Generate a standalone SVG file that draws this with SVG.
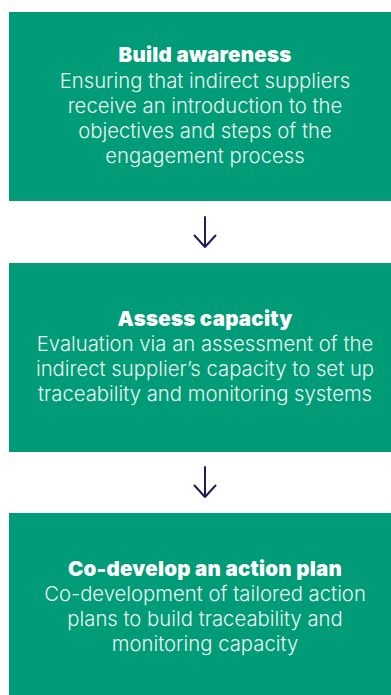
<svg xmlns="http://www.w3.org/2000/svg" width="391" height="695" viewBox="0 0 391 695">
<style>
.box{fill:#009b77}
.t{font-family:Inter,"Liberation Sans",sans-serif;font-size:20.5px;font-weight:900;fill:#ffffff;text-anchor:middle;letter-spacing:0.25px}
.b{font-family:Inter,"Liberation Sans",sans-serif;font-size:20.3px;font-weight:300;fill:#eaf6f1;text-anchor:middle}
.arr{fill:none;stroke:#1f1c5c;stroke-width:2;stroke-linecap:round;stroke-linejoin:round}
</style>
<rect width="391" height="695" fill="#ffffff"/>
<g id="node1">
<rect class="box" x="9" y="12" width="382" height="189"/>
<text class="t" x="205" y="62">Build awareness</text>
<text class="b" x="205" y="88">Ensuring that indirect suppliers</text>
<text class="b" x="205" y="113">receive an introduction to the</text>
<text class="b" x="205" y="138">objectives and steps of the</text>
<text class="b" x="205" y="163">engagement process</text>
</g>
<g id="node2">
<rect class="box" x="9" y="263" width="382" height="189"/>
<text class="t" x="205" y="326">Assess capacity</text>
<text class="b" x="205" y="351">Evaluation via an assessment of the</text>
<text class="b" x="205" y="376">indirect supplier’s capacity to set up</text>
<text class="b" x="205" y="401">traceability and monitoring systems</text>
</g>
<g id="node3">
<rect class="box" x="9" y="513" width="382" height="182"/>
<text class="t" x="205" y="576">Co-develop an action plan</text>
<text class="b" x="205" y="601">Co-development of tailored action</text>
<text class="b" x="205" y="626">plans to build traceability and</text>
<text class="b" x="205" y="651">monitoring capacity</text>
</g>
<g id="connectors">
<path class="arr" d="M205 217 V247 M194.5 235.5 L205 247 L215.5 235.5"/>
<path class="arr" d="M205 467 V497 M194.5 485.5 L205 497 L215.5 485.5"/>
</g>
</svg>
